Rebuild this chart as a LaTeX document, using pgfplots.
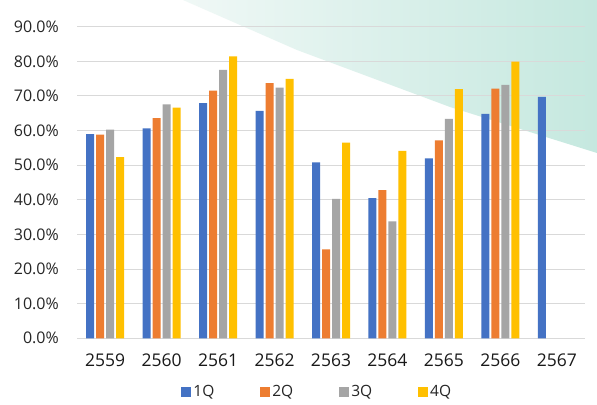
\documentclass[border=0pt]{standalone}
\usepackage{pgfplots}
\pgfplotsset{compat=1.18}
\usepackage{fontspec}
\setmainfont{Open Sans}
\definecolor{c1}{HTML}{4472C4}
\definecolor{c2}{HTML}{ED7D31}
\definecolor{c3}{HTML}{A5A5A5}
\definecolor{c4}{HTML}{FFC000}
\definecolor{gridc}{HTML}{D9D9D9}
\begin{document}
\begin{tikzpicture}
\useasboundingbox (0,0) rectangle (597bp,405bp);
\fill[white] (0,0) rectangle (597bp,405bp);
\shade[left color={rgb,255:red,240;green,248;blue,246}, right color={rgb,255:red,197;green,232;blue,223}]
  (183bp,405bp) -- (297bp,355bp) -- (450bp,298bp) -- (597bp,252bp) -- (597bp,405bp) -- cycle;
\begin{axis}[
  at={(77bp,66.7bp)}, anchor=south west,
  scale only axis, width=508bp, height=311.6bp,
  ybar=2bp, bar width=8bp,
  xmin=-0.5, xmax=8.5, ymin=0, ymax=90,
  xtick={0,...,8},
  xticklabels={2559,2560,2561,2562,2563,2564,2565,2566,2567},
  ytick={0,10,...,90},
  ymajorgrids, grid style={draw=gridc, line width=0.9bp},
  axis line style={draw=none},
  major tick length=0pt,
  yticklabel={\pgfmathprintnumber[fixed,fixed zerofill,precision=1,assume math mode=true]{\tick}\%},
  yticklabel style={font=\fontsize{16bp}{19bp}\selectfont, inner sep=0pt, xshift=-18bp, text=black!85},
  xticklabel style={font=\fontsize{17.5bp}{20bp}\selectfont, inner sep=0pt, yshift=-15bp, text=black!90},
  legend style={at={(0.473,-0.171)}, anchor=center, draw=none, fill=none,
    font=\fontsize{15.5bp}{18bp}\selectfont, text=black!85,
    nodes={inner sep=2bp},
    /tikz/every even column/.append style={column sep=44bp}},
  legend columns=4,
  legend image code/.code={\fill[#1] (0bp,-5bp) rectangle (10bp,5bp);},
]
\addplot[fill=c1, draw=none] coordinates {(0,59.0) (1,60.6) (2,67.9) (3,65.7) (4,50.8) (5,40.5) (6,52.0) (7,64.8) (8,69.7)};
\addplot[fill=c2, draw=none] coordinates {(0,58.8) (1,63.6) (2,71.5) (3,73.7) (4,25.7) (5,42.8) (6,57.2) (7,72.1)};
\addplot[fill=c3, draw=none] coordinates {(0,60.3) (1,67.6) (2,77.5) (3,72.4) (4,40.3) (5,33.8) (6,63.4) (7,73.2)};
\addplot[fill=c4, draw=none] coordinates {(0,52.3) (1,66.6) (2,81.4) (3,74.9) (4,56.5) (5,54.1) (6,72.0) (7,79.9)};
\legend{1Q,2Q,3Q,4Q}
\end{axis}
\end{tikzpicture}
\end{document}
